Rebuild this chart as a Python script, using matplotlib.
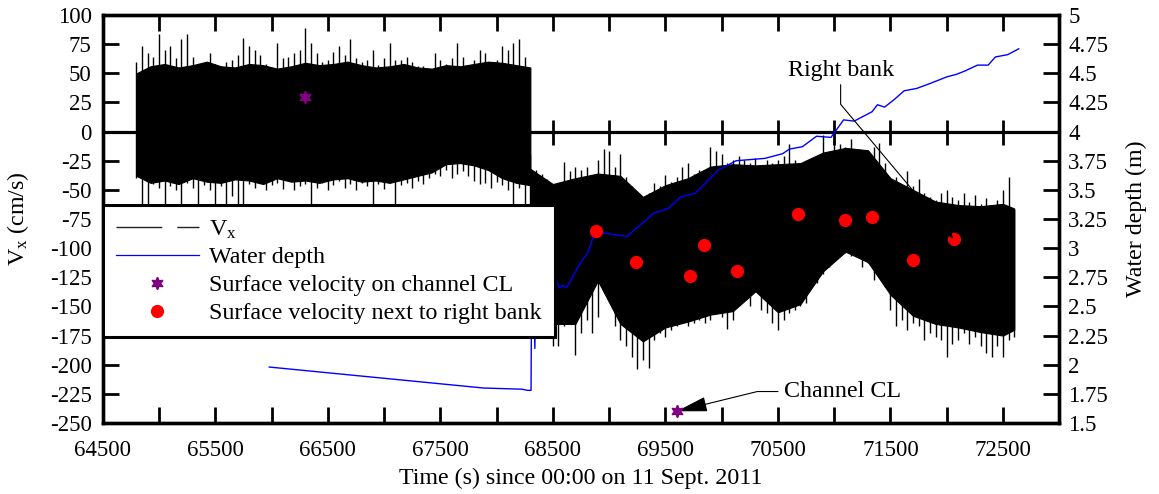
import numpy as np
import matplotlib
matplotlib.use("Agg")
import matplotlib.pyplot as plt
from matplotlib.lines import Line2D
from matplotlib.ticker import FormatStrFormatter

plt.rcParams["font.family"] = ["Liberation Serif", "DejaVu Serif"]
plt.rcParams["mathtext.fontset"] = "custom"
plt.rcParams["mathtext.rm"] = "Liberation Serif"
plt.rcParams["mathtext.it"] = "Liberation Serif:italic"
plt.rcParams["axes.unicode_minus"] = False

# ---------------- data ----------------
# Vx record, part 1: per-50 s peak (hi) and trough (lo) values, cm/s
seg1_t = np.arange(64800, 68251, 50)
seg1_hi = [60, 73, 67, 64, 84, 70, 73, 63, 79, 84,
           64, 58, 58, 67, 58, 56, 60, 61, 66, 80,
           73, 70, 66, 58, 53, 76, 63, 64, 67, 70,
           89, 76, 67, 60, 61, 68, 73, 66, 79, 63,
           60, 61, 70, 57, 63, 76, 61, 61, 64, 60,
           56, 56, 53, 67, 61, 58, 63, 76, 64, 56,
           61, 70, 67, 56, 61, 73, 70, 76, 79, 64]
seg1_lo = [-40, -66, -66, -45, -48, -66, -47, -50, -66, -44,
           -48, -66, -46, -50, -66, -47, -66, -55, -66, -66,
           -45, -48, -43, -50, -46, -44, -49, -42, -50, -47,
           -45, -66, -48, -44, -50, -46, -42, -48, -45, -50,
           -44, -47, -66, -45, -49, -42, -66, -46, -44, -48,
           -42, -45, -40, -36, -38, -33, -40, -36, -34, -38,
           -42, -45, -44, -48, -43, -46, -50, -66, -48, -66]
# dense (solid-looking) part of the record, part 1
seg1_core_t = np.arange(64800, 68301, 125)
seg1_core_hi = [50, 56, 58, 55, 57, 60, 56, 55, 58, 57, 54, 56, 59, 57, 58,
                60, 57, 55, 56, 58, 55, 54, 57, 56, 58, 60, 59, 57, 55]
seg1_core_lo = [-38, -44, -42, -45, -40, -43, -44, -41, -42, -45, -40, -43, -42, -44, -41,
                -40, -43, -42, -44, -41, -38, -35, -28, -27, -29, -33, -40, -44, -46]

# Vx record, part 2
seg2_t = np.arange(68300, 72601, 50)
seg2_hi = [-19, -33, -36, -41, -47, -44, -26, -34, -30, -33,
           -30, -41, -24, -15, -17, -30, -19, -39, -47, -56,
           -59, -53, -44, -47, -37, -43, -39, -30, -27, -36,
           -33, -33, -13, -17, -19, -27, -24, -21, -24, -27,
           -23, -30, -24, -27, -24, -21, -11, -24, -27, -26,
           -33, -21, -3, -19, -7, -11, -13, -6, -16, -17,
           -19, -13, -10, -27, -41, -39, -47, -34, -47, -41,
           -53, -56, -59, -53, -50, -56, -59, -53, -60, -54,
           -62, -57, -64, -59, -50, -39, -67]
seg2_lo = [-160, -170, -175, -172, -184, -184, -167, -164, -192, -173,
           -162, -173, -159, -124, -142, -167, -179, -184, -193, -204,
           -196, -203, -179, -173, -176, -170, -167, -164, -167, -164,
           -162, -164, -162, -156, -159, -169, -162, -144, -142, -150,
           -133, -153, -156, -164, -170, -162, -156, -153, -150, -147,
           -127, -130, -122, -116, -104, -107, -104, -107, -102, -116,
           -113, -127, -122, -133, -153, -167, -162, -170, -164, -167,
           -179, -173, -176, -179, -193, -182, -179, -173, -182, -176,
           -184, -190, -193, -184, -193, -179, -176]
seg2_core_t = np.append(np.arange(68300, 72501, 200), 72600)
seg2_core_hi = [-32, -45, -40, -36, -38, -56, -46, -40, -30, -28, -29, -28,
                -27, -18, -14, -16, -40, -50, -60, -63, -64, -62, -66]
seg2_core_lo = [-162, -165, -165, -128, -165, -180, -168, -163, -157, -154, -137, -155,
                -148, -120, -103, -112, -140, -158, -165, -168, -172, -175, -170]

# Water depth (m)
depth_t = [65980, 67885, 68225, 68275, 68306, 68310, 68332, 68340, 68346, 68433,
           68526, 68558, 68589, 68620, 68652, 68748, 68811, 68874, 69161, 69240,
           69399, 69526, 69637, 69764, 69860, 69971, 70129, 70257, 70384, 70541,
           70603, 70717, 70843, 70971, 71083, 71178, 71336, 71384, 71448, 71527,
           71622, 71733, 71845, 72003, 72083, 72162, 72273, 72368, 72432, 72542, 72640]
depth_m = [1.98, 1.80, 1.79, 1.78, 1.78, 2.45, 2.55, 2.14, 2.60, 2.64,
           2.73, 2.66, 2.68, 2.66, 2.71, 2.88, 2.96, 3.14, 3.10, 3.17,
           3.30, 3.34, 3.44, 3.47, 3.56, 3.67, 3.75, 3.76, 3.77, 3.81,
           3.85, 3.87, 3.96, 3.95, 4.10, 4.09, 4.17, 4.23, 4.21, 4.27,
           4.35, 4.37, 4.41, 4.47, 4.49, 4.52, 4.57, 4.57, 4.64, 4.66, 4.71]

# Surface velocities (cm/s)
cl_t = [66300, 69600]
cl_v = [30, -240]
rb_t = [68880, 69240, 69720, 69840, 70140, 70680, 71100, 71340, 71700, 72060]
rb_v = [-85, -112, -124, -97, -120, -71, -76, -73, -110, -92]

legend_labels = [r"V$_\mathregular{x}$", "Water depth",
                 "Surface velocity on channel CL", "Surface velocity next to right bank"]

# ---------------- figure ----------------
W, H = 1159, 494
fig = plt.figure(figsize=(W / 100, H / 100), dpi=100)
L, R, T, B = 102.7, 1059.3, 15, 423
ax = fig.add_axes([L / W, 1 - B / H, (R - L) / W, (B - T) / H])
ax2 = ax.twinx()

FS_T = 16.5
FS = 17.3

# Vx band
ax.fill_between(seg1_core_t, seg1_core_lo, seg1_core_hi, color="black", lw=0.8, zorder=2)
ax.vlines(seg1_t, seg1_lo, seg1_hi, color="black", lw=1.0, zorder=2)
ax.fill_between(seg2_core_t, seg2_core_lo, seg2_core_hi, color="black", lw=0.8, zorder=2)
ax.vlines(seg2_t, seg2_lo, seg2_hi, color="black", lw=1.0, zorder=2)

# water depth
ax2.plot(depth_t, depth_m, color="blue", lw=1.0, zorder=3)

# surface velocities (velocity scale, drawn above the depth line)
ax2.plot(rb_t, rb_v, transform=ax.transData, ls="none", marker="o", ms=8.5,
         color="red", zorder=4)
ax2.plot(cl_t, cl_v, transform=ax.transData, ls="none", marker=(6, 1, 0), ms=9,
         color="purple", zorder=7)

# axes limits / ticks
ax.set_xlim(64500, 73000)
ax.set_ylim(-250, 100)
ax2.set_ylim(1.5, 5)
ax2.set_xlim(64500, 73000)

xt = np.arange(64500, 73001, 500)
ax.set_xticks(xt)
ax.set_xticklabels([str(v) if (v - 64500) % 1000 == 0 else "" for v in xt])
ax.set_yticks(np.arange(-250, 101, 25))
ax2.set_yticks(np.arange(1.5, 5.001, 0.25))
ax2.yaxis.set_major_formatter(FormatStrFormatter("%g"))

ax.tick_params(axis="both", direction="in", length=11.5, width=2.0, labelsize=FS_T)
ax.tick_params(axis="x", top=True, pad=12)
ax.tick_params(axis="y", pad=8)
ax2.tick_params(axis="y", direction="in", length=11.5, width=2.0, labelsize=FS_T, pad=6.5)
for a in (ax, ax2):
    for s in a.spines.values():
        s.set_linewidth(2.4)

# zero line with crossing ticks
zax = ax.secondary_xaxis(250 / 350)
zax.set_xticks(xt)
zax.tick_params(direction="inout", length=18, width=2.0, labelbottom=False, labeltop=False)
for s in zax.spines.values():
    s.set_linewidth(2.3)

# labels
ax.set_xlabel("Time (s) since 00:00 on 11 Sept. 2011", fontsize=FS)
ax.xaxis.set_label_coords(0.5, -0.11)
ax.set_ylabel(r"V$_\mathregular{x}$ (cm/s)", fontsize=FS)
ax.yaxis.set_label_coords(-0.0747, 0.5)
ax2.set_ylabel("Water depth (m)", fontsize=FS)
ax2.yaxis.set_label_coords(1.070, 0.5)

# annotations
ax2.annotate("Right bank", xy=(rb_t[-1], rb_v[-1]), xycoords=ax.transData,
             xytext=(71057, 52.8), textcoords=ax.transData, ha="center", va="center",
             fontsize=FS, zorder=6,
             arrowprops=dict(arrowstyle="-|>,head_length=0.35,head_width=0.12",
                             color="black", lw=0.8, relpos=(0.5, 0), shrinkA=1, shrinkB=0,
                             connectionstyle="angle,angleA=90,angleB=130,rad=0"))
ax2.annotate("Channel CL", xy=(cl_t[1], cl_v[1]), xycoords=ax.transData,
             xytext=(71070, -223), textcoords=ax.transData, ha="center", va="center",
             fontsize=FS, zorder=3,
             arrowprops=dict(arrowstyle="-|>,head_length=1.12,head_width=0.27",
                             color="black", lw=0.8, relpos=(0, 0.5), shrinkA=2, shrinkB=0,
                             connectionstyle="angle,angleA=0,angleB=13.8,rad=0"))

# legend
h_vx = Line2D([], [], color="#222222", lw=1.0, dashes=(33, 10.8, 18.7, 200))
h_depth = Line2D([], [], color="blue", lw=0.9)
h_star = Line2D([], [], ls="none", marker=(6, 1, 0), ms=9, color="purple")
h_dot = Line2D([], [], ls="none", marker="o", ms=8.5, color="red")
leg = ax2.legend([h_vx, h_depth, h_star, h_dot], legend_labels, loc="upper left",
                 bbox_to_anchor=(L / W, 1 - 205 / H), bbox_transform=fig.transFigure,
                 frameon=True, fancybox=False, framealpha=1, edgecolor="black",
                 fontsize=FS, handlelength=3.45, handletextpad=0.42, borderpad=0.55,
                 labelspacing=0.25, borderaxespad=0)
leg.get_frame().set_linewidth(2.2)
leg.set_zorder(20)

fig.savefig("out.png", dpi=100)
